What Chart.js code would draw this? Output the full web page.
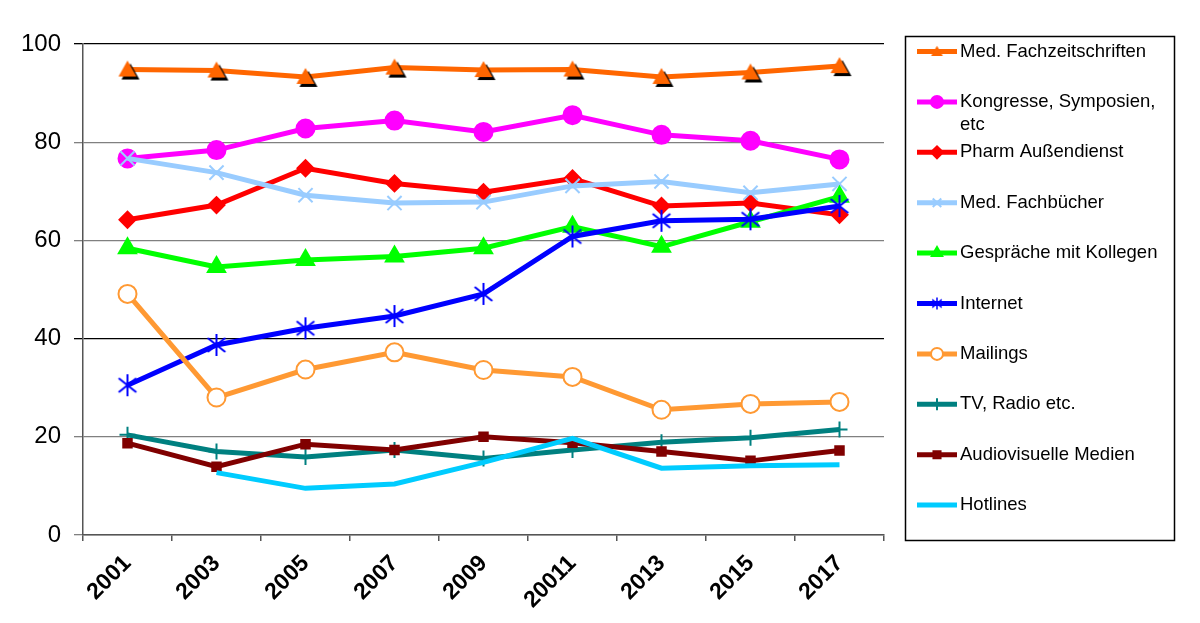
<!DOCTYPE html>
<html>
<head>
<meta charset="utf-8">
<script src="https://cdn.jsdelivr.net/npm/chart.js@4/dist/chart.umd.min.js"></script>
<style>
  html, body { margin: 0; padding: 0; background: #fff; }
  #wrap { width: 1200px; height: 623px; }
</style>
</head>
<body>
<div id="wrap"><canvas id="myChart"></canvas></div>
<script>
// Data
const years = ['2001', '2003', '2005', '2007', '2009', '20011', '2013', '2015', '2017'];
const yTicks = [0, 20, 40, 60, 80, 100];

const fachzeitschriften = [94.8, 94.6, 93.3, 95.2, 94.7, 94.8, 93.3, 94.2, 95.5];
const kongresse         = [76.7, 78.4, 82.8, 84.4, 82.1, 85.5, 81.5, 80.3, 76.5];
const aussendienst      = [64.2, 67.2, 74.7, 71.6, 69.8, 72.6, 67.0, 67.6, 65.2];
const fachbuecher       = [76.7, 73.8, 69.2, 67.6, 67.8, 71.1, 72.0, 69.7, 71.5];
const kollegen          = [58.4, 54.6, 56.0, 56.7, 58.4, 62.8, 58.7, 63.8, 68.9];
const internet          = [30.5, 38.7, 42.1, 44.6, 49.1, 60.8, 64.0, 64.3, 67.0];
const mailings          = [49.1, 28.0, 33.7, 37.2, 33.6, 32.2, 25.5, 26.7, 27.1];
const tvRadio           = [20.4, 17.0, 15.9, 17.3, 15.6, 17.3, 18.9, 19.8, 21.5];
const audiovisuell      = [18.7, 13.9, 18.5, 17.3, 20.0, 18.8, 17.0, 15.1, 17.2];
const hotlines          = [null, 12.7, 9.5, 10.4, 14.8, 19.7, 13.6, 14.1, 14.3];

const seriesNames = ['Med. Fachzeitschriften', 'Kongresse, Symposien, etc', 'Pharm Außendienst',
  'Med. Fachbücher', 'Gespräche mit Kollegen', 'Internet', 'Mailings', 'TV, Radio etc.',
  'Audiovisuelle Medien', 'Hotlines'];
const legendLines = [['Med. Fachzeitschriften'], ['Kongresse, Symposien,', 'etc'], ['Pharm Außendienst'],
  ['Med. Fachbücher'], ['Gespräche mit Kollegen'], ['Internet'], ['Mailings'], ['TV, Radio etc.'],
  ['Audiovisuelle Medien'], ['Hotlines']];

const FONT = '"Liberation Sans", Arial, sans-serif';

// orange triangle with the black drop shadow
function triangleMarker(s, shadow) {
  const c = document.createElement('canvas');
  c.width = c.height = Math.ceil(32 * s);
  const g = c.getContext('2d');
  const cx = c.width / 2, cy = c.height / 2;
  function tri(dx, dy, col) {
    g.beginPath();
    g.moveTo(cx + dx, cy - 9 * s + dy);
    g.lineTo(cx + 9 * s + dx, cy + 7 * s + dy);
    g.lineTo(cx - 9 * s + dx, cy + 7 * s + dy);
    g.closePath();
    g.fillStyle = col;
    g.fill();
  }
  if (shadow) tri(3 * s, 3 * s, '#000');
  tri(0, 0, '#FF6600');
  return c;
}

// asterisk: X plus a vertical bar
function asteriskMarker(r, lw) {
  const c = document.createElement('canvas');
  c.width = c.height = Math.ceil(2 * r + 4);
  const g = c.getContext('2d');
  const cx = c.width / 2, cy = c.height / 2;
  const d = r * 0.8;
  g.strokeStyle = '#0000FF';
  g.lineWidth = lw;
  g.beginPath();
  g.moveTo(cx, cy - r); g.lineTo(cx, cy + r);
  g.moveTo(cx - d, cy - d * 0.8); g.lineTo(cx + d, cy + d * 0.8);
  g.moveTo(cx + d, cy - d * 0.8); g.lineTo(cx - d, cy + d * 0.8);
  g.stroke();
  return c;
}

function series(i, data, color, style, radius, extra) {
  return Object.assign({
    label: seriesNames[i],
    data: data,
    borderColor: color,
    backgroundColor: color,
    pointBackgroundColor: color,
    pointBorderColor: color,
    borderWidth: 5,
    pointStyle: style,
    pointRadius: radius,
    pointHoverRadius: radius,
    pointBorderWidth: 2,
    tension: 0,
    order: -i
  }, extra || {});
}

const datasets = [
  series(0, fachzeitschriften, '#FF6600', triangleMarker(1, true), 10, { legendMarker: triangleMarker(0.65, false) }),
  series(1, kongresse, '#FF00FF', 'circle', 9, { legendRadius: 6 }),
  series(2, aussendienst, '#FF0000', 'rectRot', 8, { legendRadius: 6 }),
  series(3, fachbuecher, '#99CCFF', 'crossRot', 10, { legendRadius: 6 }),
  series(4, kollegen, '#00FF00', 'triangle', 10, { legendRadius: 6 }),
  series(5, internet, '#0000FF', asteriskMarker(11, 2), 11, { legendMarker: asteriskMarker(6, 1.5) }),
  series(6, mailings, '#FF9933', 'circle', 9, { pointBackgroundColor: '#fff', legendRadius: 6 }),
  series(7, tvRadio, '#008080', 'cross', 8, { legendRadius: 6 }),
  series(8, audiovisuell, '#800000', 'rect', 6, { legendRadius: 5 }),
  series(9, hotlines, '#00CCFF', 'circle', 0, { legendRadius: 0 })
];

// framed legend on the right, Excel style
const boxLegend = {
  id: 'boxLegend',
  afterDraw(chart) {
    const ctx = chart.ctx;
    ctx.save();
    ctx.strokeStyle = '#000';
    ctx.lineWidth = 1.5;
    ctx.strokeRect(905.5, 36.5, 269, 504);
    chart.data.datasets.forEach(function(ds, i) {
      const y = 51.5 + 50.4 * i;
      ctx.strokeStyle = ds.borderColor;
      ctx.lineWidth = 5;
      ctx.beginPath();
      ctx.moveTo(917, y);
      ctx.lineTo(957, y);
      ctx.stroke();
      if (ds.legendMarker) {
        const m = ds.legendMarker;
        ctx.drawImage(m, 937 - m.width / 2, y - m.height / 2);
      } else if (ds.legendRadius > 0) {
        ctx.fillStyle = ds.pointBackgroundColor;
        ctx.strokeStyle = ds.pointBorderColor;
        ctx.lineWidth = 2;
        Chart.helpers.drawPoint(ctx, { pointStyle: ds.pointStyle, radius: ds.legendRadius, borderWidth: 2, rotation: 0 }, 937, y);
      }
      ctx.fillStyle = '#000';
      ctx.font = '18.5px ' + FONT;
      ctx.textBaseline = 'middle';
      ctx.textAlign = 'left';
      legendLines[i].forEach(function(t, k) {
        ctx.fillText(t, 960, y + k * 23.5);
      });
    });
    ctx.restore();
  }
};

const gridColor = function(c) {
  const v = c.tick && c.tick.value;
  return (v === 40 || v === 100) ? '#000' : '#808080';
};

new Chart(document.getElementById('myChart').getContext('2d'), {
  type: 'line',
  data: { labels: years, datasets: datasets },
  plugins: [boxLegend],
  options: {
    responsive: true,
    maintainAspectRatio: false,
    animation: false,
    layout: { padding: { top: 44, right: 316, bottom: 0, left: 0 } },
    plugins: {
      legend: { display: false },
      tooltip: { enabled: false }
    },
    scales: {
      x: {
        type: 'category',
        offset: true,
        afterFit: function(scale) { scale.height = 88; },
        grid: { display: true, offset: true, drawOnChartArea: false, drawTicks: true, tickLength: 6, color: '#555', lineWidth: 1.5 },
        border: { color: '#555', width: 1.5 },
        ticks: {
          color: '#000',
          font: { family: FONT, size: 23, weight: 'bold' },
          minRotation: 45,
          maxRotation: 45,
          padding: 9,
          autoSkip: false
        }
      },
      y: {
        min: 0,
        max: 100,
        afterFit: function(scale) { scale.width = 83; },
        afterBuildTicks: function(scale) { scale.ticks = yTicks.map(function(v) { return { value: v }; }); },
        grid: { color: gridColor, lineWidth: 1.3, tickLength: 9 },
        border: { color: '#555', width: 1.5 },
        ticks: {
          color: '#000',
          font: { family: FONT, size: 24 },
          padding: 13
        }
      }
    }
  }
});
</script>
</body>
</html>
